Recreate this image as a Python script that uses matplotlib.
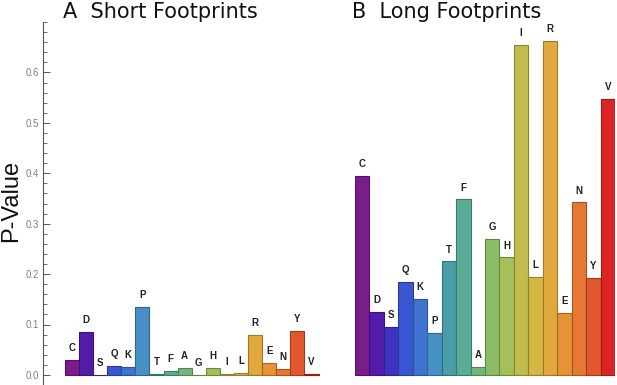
import matplotlib
matplotlib.use("Agg")
import matplotlib.pyplot as plt
import matplotlib.colors as mcolors
from matplotlib.ticker import MultipleLocator

# amino acid order and per-letter colours (shared by both panels)
letters = ["C", "D", "S", "Q", "K", "P", "T", "F", "A",
           "G", "H", "I", "L", "R", "E", "N", "Y", "V"]
colors = ["#7a1c8c", "#521ca8", "#3e33c0", "#3a55d0", "#3f74d0", "#4790c6",
          "#4a9ea8", "#5aac96", "#72b87e", "#8abd66", "#a3c05a", "#bfbe4c",
          "#d4b845", "#e0a83d", "#e69337", "#e67833", "#e2572b", "#dc2424"]

# p-values
short_p = [0.030, 0.086, 0.000, 0.018, 0.016, 0.134, 0.002, 0.007, 0.014,
           0.000, 0.014, 0.002, 0.004, 0.080, 0.024, 0.012, 0.088, 0.001]
long_p = [0.394, 0.125, 0.095, 0.184, 0.150, 0.084, 0.225, 0.348, 0.015,
          0.269, 0.233, 0.655, 0.195, 0.662, 0.123, 0.342, 0.192, 0.547]


def darker(c, f=0.7):
    r, g, b = mcolors.to_rgb(c)
    return (r * f, g * f, b * f)


def draw_panel(ax, values):
    x = list(range(len(values)))
    ax.bar(x, values, width=1.0, color=colors,
           edgecolor=[darker(c) for c in colors], linewidth=0.8)
    for xi, v, lab in zip(x, values, letters):
        ax.annotate(lab, (xi, v), xytext=(0, 5), textcoords="offset points",
                    ha="center", va="bottom", fontsize=7, fontweight="bold",
                    family="Liberation Sans", color="#222222")
    ax.set_ylim(-0.02, 0.7)


W, H = 617, 385
fig = plt.figure(figsize=(W / 100, H / 100), dpi=100)

# left panel with the axis
ax1 = fig.add_axes([43 / W, 0, (320 - 43) / W, (385 - 22) / H])
draw_panel(ax1, short_p)
ax1.set_xlim(-2.05, 17.6)
for s in ["top", "right", "bottom"]:
    ax1.spines[s].set_visible(False)
ax1.spines["left"].set_color("#555555")
ax1.spines["left"].set_linewidth(0.8)
ax1.set_xticks([])
ax1.yaxis.set_minor_locator(MultipleLocator(0.02))
ax1.set_yticks([0.0, 0.1, 0.2, 0.3, 0.4, 0.5, 0.6])
ax1.set_yticklabels(["0.0", "0.1", "0.2", "0.3", "0.4", "0.5", "0.6"])
ax1.tick_params(axis="y", which="major", direction="in", length=5,
                width=0.7, color="#555555", labelsize=7,
                labelcolor="#808080", pad=3)
ax1.tick_params(axis="y", which="minor", direction="in", length=3,
                width=0.6, color="#555555")
for t in ax1.get_yticklabels():
    t.set_family("Liberation Sans")

# right panel, no axes drawn
ax2 = fig.add_axes([355 / W, 0, (615 - 355) / W, (385 - 22) / H])
draw_panel(ax2, long_p)
ax2.set_xlim(-0.5, 17.5)
ax2.axis("off")

fig.text(160 / W, 1 - 12 / H, "A  Short Footprints", ha="center", va="center",
         fontsize=15, family="DejaVu Sans", color="#111111")
fig.text(447 / W, 1 - 12 / H, "B  Long Footprints", ha="center", va="center",
         fontsize=15, family="DejaVu Sans", color="#111111")
fig.text(11 / W, 1 - 201 / H, "P-Value", rotation=90, ha="center",
         va="center", fontsize=17, family="Liberation Sans", color="#111111")

fig.savefig("out.png", dpi=100)
